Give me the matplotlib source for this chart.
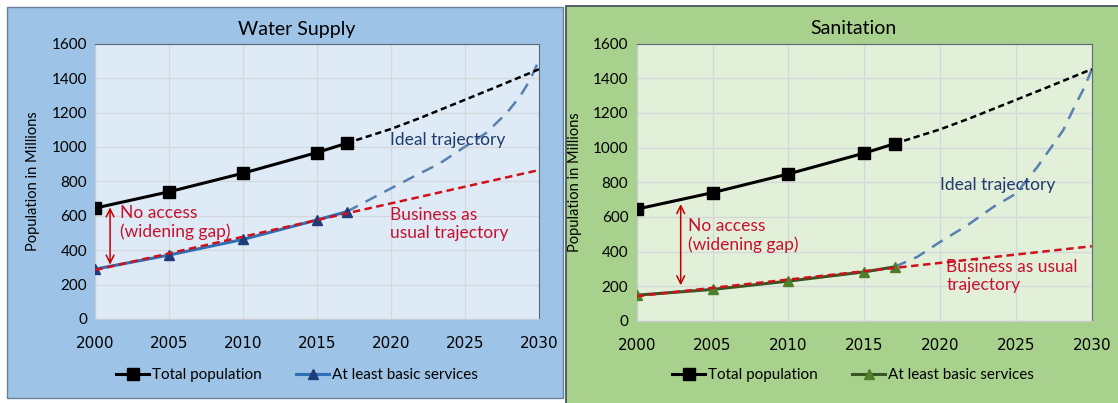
import matplotlib.pyplot as plt
from matplotlib.patches import Rectangle

plt.rcParams['font.family'] = ['Lato', 'DejaVu Sans']

# observed years and totals (same population for both panels)
years = [2000, 2005, 2010, 2015, 2017]
total_pop = [645, 740, 848, 968, 1022]

# projected total population to 2030
proj_years = [2017, 2018, 2020, 2022, 2025, 2027, 2030]
proj_total = [1022, 1050, 1105, 1170, 1275, 1345, 1452]

# water supply: at least basic services
water_basic = [290, 372, 463, 576, 624]
water_bau_years = [2000, 2030]
water_bau = [285, 866]
water_ideal_years = [2017, 2020, 2021.5, 2023.3, 2025, 2026.4, 2027.8, 2028.7, 2029.4, 2030]
water_ideal = [624, 760, 827, 905, 1002, 1080, 1196, 1292, 1390, 1506]

# sanitation: at least basic services
san_basic = [149, 182, 230, 283, 312]
san_bau_years = [2000, 2030]
san_bau = [143, 431]
san_ideal_years = [2017, 2018.5, 2020, 2021.8, 2023.5, 2025, 2026.4, 2028.1, 2029, 2029.5, 2030]
san_ideal = [312, 370, 456, 552, 657, 734, 887, 1098, 1260, 1345, 1450]

xticks = [2000, 2005, 2010, 2015, 2020, 2025, 2030]
xtick_labels = ['2000', '2005', '2010', '2015', '2020', '2025', '2030']
yticks = [0, 200, 400, 600, 800, 1000, 1200, 1400, 1600]

W, H = 1118, 403
fig = plt.figure(figsize=(W / 100, H / 100), dpi=100)
fig.patch.set_facecolor('white')


def px_rect(x0, y0, x1, y1):
    # pixel box (top-left origin) -> figure fraction [l, b, w, h]
    return [x0 / W, (H - y1) / H, (x1 - x0) / W, (y1 - y0) / H]


# panel backgrounds, kept behind the axes
l, b, w, h = px_rect(7, 7, 563, 398)
fig.patches.append(Rectangle((l, b), w, h, transform=fig.transFigure, zorder=-5,
                             facecolor='#9DC3E6', edgecolor='#6b7f99', lw=1.0))
l, b, w, h = px_rect(566, 6, 1122, 408)
fig.patches.append(Rectangle((l, b), w, h, transform=fig.transFigure, zorder=-5,
                             facecolor='#A9D18E', edgecolor='#3d4a5c', lw=1.2))


def draw_panel(rect, center_x, title, bg, basic, basic_line, basic_marker,
               bau_x, bau_y, ideal_x, ideal_y, annot):
    ax = fig.add_axes(rect)
    ax.set_facecolor(bg)
    ax.set_xlim(2000, 2030)
    ax.set_ylim(0, 1600)
    ax.set_xticks(xticks, labels=xtick_labels, fontfamily='DejaVu Sans', fontsize=11)
    ax.set_yticks(yticks)
    ax.grid(True, color='#d4d8dc', lw=1.0)
    ax.set_axisbelow(True)
    for s in ['top', 'right']:
        ax.spines[s].set_color('#5a6878')
    for s in ['left', 'bottom']:
        ax.spines[s].set_color('#c8ccd0')
    ax.tick_params(length=0, pad=6)
    ax.tick_params(axis='x', pad=12)
    ax.tick_params(axis='y', labelsize=11)
    ax.set_ylabel('Population in Millions', fontsize=10.5, labelpad=8)

    # title and legend are centred on the whole panel, not on the plot area
    fig.text(center_x / W, 1 - 29 / H, title, fontsize=14, ha='center', va='center')

    # projections
    ax.plot(ideal_x, ideal_y, color='#5880b0', lw=1.8, dashes=(5, 3.5), zorder=2)
    ax.plot(bau_x, bau_y, color='#d0101a', lw=1.8, dashes=(3, 1.8), zorder=4)
    ax.plot(proj_years, proj_total, color='black', lw=1.8, dashes=(2.5, 1.5), zorder=3)

    # observed series
    ax.plot(years, total_pop, color='black', lw=2.2, marker='s', ms=9,
            label='Total population', zorder=5)
    ax.plot(years, basic, color=basic_line, lw=2.2, marker='^', ms=6.5,
            mfc=basic_marker, mec=basic_marker, label='At least basic services', zorder=3)

    ax.legend(loc='center', bbox_to_anchor=(center_x / W, 1 - 375 / H),
              bbox_transform=fig.transFigure, ncol=2, frameon=False,
              fontsize=11, handlelength=2.2, columnspacing=2.2, handletextpad=0.2)

    # annotations
    ax_x, top, bot = annot['arrow']
    ax.annotate('', xy=(ax_x, top), xytext=(ax_x, bot),
                arrowprops=dict(arrowstyle='<->', color='#c00000', lw=1.1,
                                mutation_scale=14), zorder=6)
    tx, ty = annot['gap']
    ax.text(tx, ty, 'No access\n(widening gap)', color='#c8102e', fontsize=12.5,
            va='center', ha='left', linespacing=1.15, zorder=6)
    tx, ty = annot['ideal']
    ax.text(tx, ty, 'Ideal trajectory', color='#1f3a6b', fontsize=12.5,
            va='center', ha='left', zorder=6)
    tx, ty, txt = annot['bau']
    ax.text(tx, ty, txt, color='#c8102e', fontsize=12.5,
            va='center', ha='left', linespacing=1.15, zorder=6)
    return ax


draw_panel(px_rect(95.3, 43.8, 539, 319), 297, 'Water Supply', '#DEEBF7',
           water_basic, '#2e6fb6', '#1f3c78',
           water_bau_years, water_bau, water_ideal_years, water_ideal,
           {'arrow': (2001.0, 665, 300),
            'gap': (2001.7, 560),
            'ideal': (2019.9, 1041),
            'bau': (2019.9, 550, 'Business as\nusual trajectory')})

draw_panel(px_rect(636.7, 43.5, 1091.8, 321), 853, 'Sanitation', '#E2F0D9',
           san_basic, '#375623', '#4f7f2a',
           san_bau_years, san_bau, san_ideal_years, san_ideal,
           {'arrow': (2002.9, 690, 190),
            'gap': (2003.4, 494),
            'ideal': (2020.0, 782),
            'bau': (2020.4, 258, 'Business as usual\ntrajectory')})

fig.savefig('out.png', dpi=100)
